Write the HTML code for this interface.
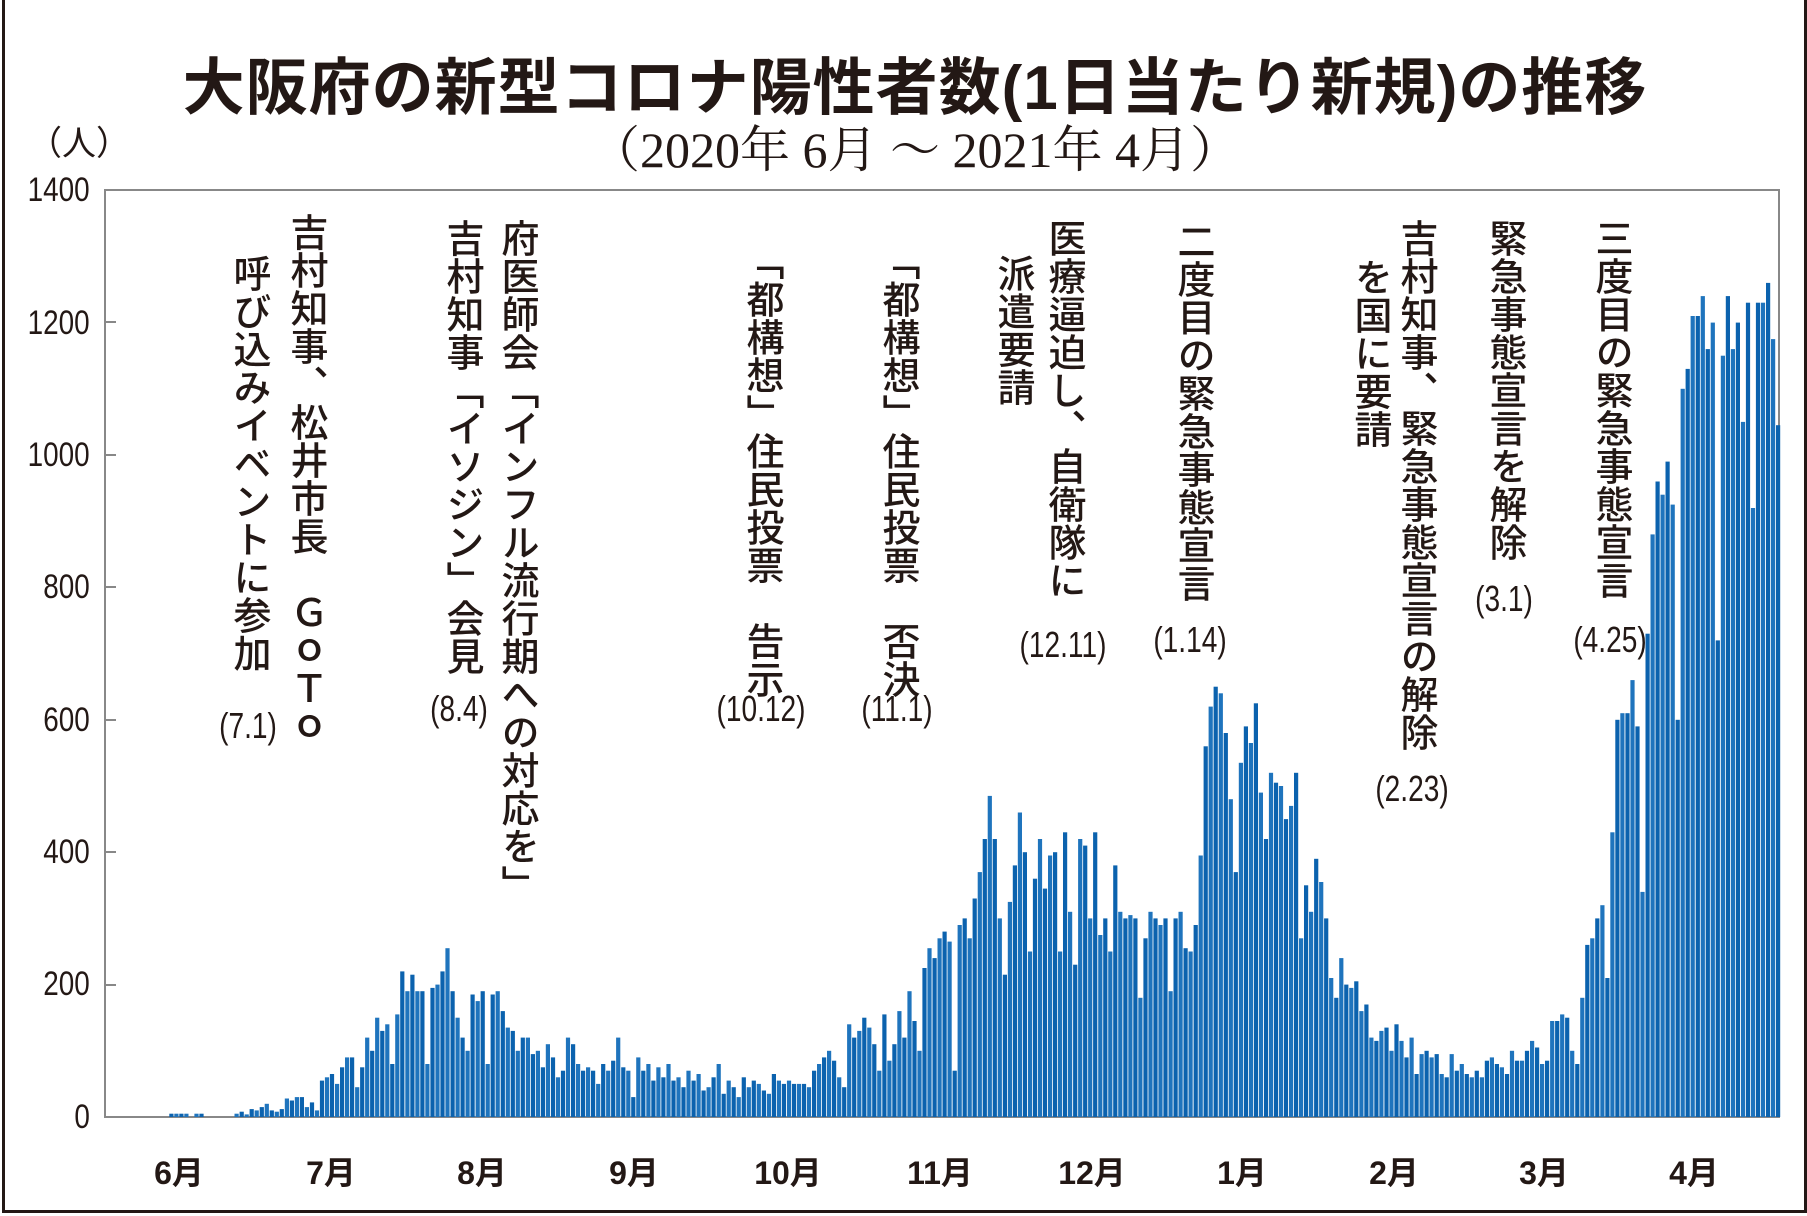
<!DOCTYPE html>
<html><head><meta charset="utf-8"><style>
*{margin:0;padding:0}
body{width:1807px;height:1216px;background:#fff;position:relative;overflow:hidden;font-family:"Liberation Sans","Noto Sans CJK JP",sans-serif;color:#231815}
#frame{position:absolute;left:2px;top:0;width:1799px;height:1210px;border:3px solid #231815;border-top:none}
.t{position:absolute;white-space:nowrap}
.v{position:absolute;writing-mode:vertical-rl;font-size:38px;line-height:40px;letter-spacing:0px;font-weight:500;width:40px;white-space:nowrap}
.d{position:absolute;font-size:36px;width:140px;margin-left:-70px;text-align:center;transform:scaleX(0.78);line-height:40px}
.yl{position:absolute;right:1717px;font-size:34px;transform:scaleX(0.82);transform-origin:right center;line-height:34px}
.m{position:absolute;font-size:32px;font-weight:bold;width:100px;margin-left:-50px;text-align:center;top:1148px}
</style></head><body>
<div id="frame"></div>
<div class="t" style="left:0;width:1830px;text-align:center;top:37px;font-size:62px;font-weight:bold;letter-spacing:1px">大阪府の新型コロナ陽性者数(1日当たり新規)の推移</div>
<div class="t" style="left:0;width:1830px;text-align:center;top:110px;font-size:50px;font-family:'Liberation Serif','Noto Serif CJK SC',serif">（2020年 6月 ～ 2021年 4月）</div>
<div class="t" style="left:28px;top:116px;font-size:34px">（人）</div>
<div class="yl" style="top:173px">1400</div>
<div class="yl" style="top:306px">1200</div>
<div class="yl" style="top:438px">1000</div>
<div class="yl" style="top:570px">800</div>
<div class="yl" style="top:703px">600</div>
<div class="yl" style="top:835px">400</div>
<div class="yl" style="top:967px">200</div>
<div class="yl" style="top:1100px">0</div>
<svg style="position:absolute;left:0;top:0" width="1807" height="1216" id="s">
<rect x="105" y="190" width="1674" height="927" fill="none" stroke="#888" stroke-width="2"/>
<g stroke="#888" stroke-width="2">
<line x1="105" y1="322" x2="116" y2="322"/><line x1="105" y1="455" x2="116" y2="455"/><line x1="105" y1="587" x2="116" y2="587"/><line x1="105" y1="720" x2="116" y2="720"/><line x1="105" y1="852" x2="116" y2="852"/><line x1="105" y1="985" x2="116" y2="985"/>
</g>
<g id="bars"></g>
</svg>
<script>
var v=[0,0,0,0,0,0,0,0,0,0,0,0,0,5,5,5,5,0,5,5,0,0,0,0,0,0,5,8,4,12,10,15,20,10,8,12,28,25,30,30,15,22,10,55,60,65,50,75,90,90,45,75,120,100,150,130,140,80,155,220,190,215,190,190,80,195,200,220,255,190,150,120,100,185,175,190,80,185,190,160,135,130,100,120,120,95,100,75,110,90,60,70,120,110,80,70,75,70,50,80,70,85,120,75,70,30,90,70,80,55,75,60,80,55,60,45,70,55,65,40,45,60,80,35,55,45,30,60,45,55,50,40,35,65,55,50,55,50,50,50,45,70,80,90,100,85,60,45,140,120,130,150,135,110,70,155,85,110,160,120,190,145,100,225,255,240,270,280,265,70,290,300,270,330,370,420,485,420,300,215,325,380,460,400,250,360,420,345,395,400,250,430,310,230,420,410,300,430,275,300,250,380,310,300,305,300,180,270,310,300,290,300,190,300,310,255,250,290,395,560,620,650,640,580,480,370,535,590,565,625,490,420,520,505,500,450,470,520,270,350,310,390,355,300,210,180,240,200,195,205,160,170,120,115,130,135,100,140,115,90,120,65,95,100,90,95,65,60,95,70,80,65,60,70,60,85,90,80,75,65,100,85,85,100,115,105,80,85,145,145,155,150,100,80,180,260,270,300,320,210,430,600,610,610,660,590,340,730,880,960,940,990,925,600,1100,1130,1210,1210,1240,1160,1200,720,1150,1240,1160,1200,1050,1230,920,1230,1230,1260,1175,1045];
var g=document.getElementById('bars'),h='',n=v.length,step=(1778-106)/(n-1);
for(var i=0;i<n;i++){if(!v[i])continue;var x=106+i*step,hh=v[i]*0.662;
h+='<rect x="'+(x-2).toFixed(1)+'" y="'+(1117-hh).toFixed(1)+'" width="4.2" height="'+hh.toFixed(1)+'" fill="'+(i%2?'#0b62ae':'#1f74bd')+'"/>';}
g.innerHTML=h;
</script>
<div class="m" style="left:179px">6月</div>
<div class="m" style="left:331px">7月</div>
<div class="m" style="left:482px">8月</div>
<div class="m" style="left:634px">9月</div>
<div class="m" style="left:788px">10月</div>
<div class="m" style="left:940px">11月</div>
<div class="m" style="left:1092px">12月</div>
<div class="m" style="left:1242px">1月</div>
<div class="m" style="left:1394px">2月</div>
<div class="m" style="left:1544px">3月</div>
<div class="m" style="left:1694px">4月</div>

<div class="v" style="left:285px;top:213px">吉村知事、松井市長　ＧｏＴｏ</div>
<div class="v" style="left:228px;top:254px">呼び込みイベントに参加</div>
<div class="d" style="left:248px;top:706px">(7.1)</div>
<div class="v" style="left:496px;top:219px">府医師会「インフル流行期への対応を」</div>
<div class="v" style="left:441px;top:219px">吉村知事「イソジン」会見</div>
<div class="d" style="left:459px;top:689px">(8.4)</div>
<div class="v" style="left:741px;top:242px">「都構想」住民投票　告示</div>
<div class="d" style="left:761px;top:689px">(10.12)</div>
<div class="v" style="left:877px;top:242px">「都構想」住民投票　否決</div>
<div class="d" style="left:897px;top:689px">(11.1)</div>
<div class="v" style="left:1043px;top:219px">医療逼迫し、自衛隊に</div>
<div class="v" style="left:992px;top:254px">派遣要請</div>
<div class="d" style="left:1063px;top:625px">(12.11)</div>
<div class="v" style="left:1172px;top:222px">二度目の緊急事態宣言</div>
<div class="d" style="left:1190px;top:620px">(1.14)</div>
<div class="v" style="left:1395px;top:219px">吉村知事、緊急事態宣言の解除</div>
<div class="v" style="left:1349px;top:258px">を国に要請</div>
<div class="d" style="left:1412px;top:769px">(2.23)</div>
<div class="v" style="left:1484px;top:219px">緊急事態宣言を解除</div>
<div class="d" style="left:1504px;top:579px">(3.1)</div>
<div class="v" style="left:1590px;top:219px">三度目の緊急事態宣言</div>
<div class="d" style="left:1610px;top:620px">(4.25)</div>
</body></html>
